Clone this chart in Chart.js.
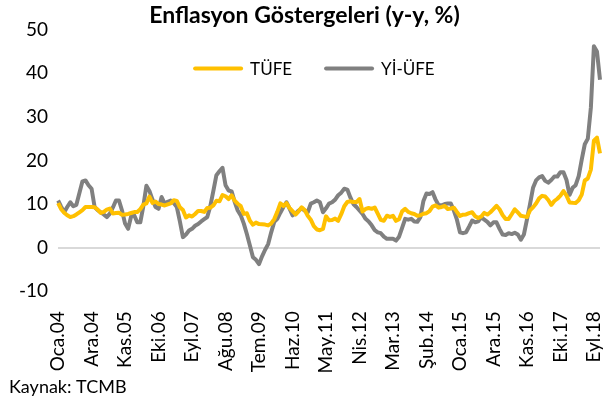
<!DOCTYPE html>
<html>
<head>
<meta charset="utf-8">
<script src="https://cdn.jsdelivr.net/npm/chart.js@4.4.1/dist/chart.umd.min.js"></script>
<style>
  html, body { margin: 0; padding: 0; background: #fff; }
  #wrap { width: 604px; height: 400px; position: relative; }
</style>
</head>
<body>
<div id="wrap"><canvas id="c" width="604" height="400"></canvas></div>
<script>
// Month names (Turkish) and years for the monthly category axis
const MONTHS = ['Oca','Şub','Mar','Nis','May','Haz','Tem','Ağu','Eyl','Eki','Kas','Ara'];
const YEARS = ['04','05','06','07','08','09','10','11','12','13','14','15','16','17','18'];
const LAST_MONTH_2018 = 11; // data runs through Kas.18
const TICK_EVERY = 11;      // a label every 11 months

// TÜFE, annual % change, Oca.04 - Kas.18
const tufe = [
  10.2, 8.8, 8.0, 7.4, 7.0, 7.2, 7.6, 8.1, 8.6, 9.3, 9.3, 9.3,
  9.24, 8.69, 7.94, 8.18, 8.70, 8.95, 7.82, 7.91, 7.99, 7.52, 7.61, 7.72,
  7.93, 8.15, 8.16, 8.83, 9.86, 10.12, 11.69, 10.26, 10.55, 9.98, 9.86, 9.65,
  9.93, 10.16, 10.86, 10.72, 9.23, 8.60, 6.90, 7.39, 7.12, 7.70, 8.40, 8.39,
  8.17, 9.10, 9.15, 9.66, 10.74, 10.61, 12.06, 11.77, 11.13, 11.99, 10.76, 10.06,
  9.50, 7.73, 7.89, 6.13, 5.24, 5.73, 5.39, 5.33, 5.27, 5.08, 5.53, 6.53,
  8.19, 10.13, 9.56, 10.19, 9.10, 8.37, 7.58, 8.33, 9.24, 8.62, 7.29, 6.40,
  4.90, 4.16, 3.99, 4.26, 7.17, 6.24, 6.31, 6.65, 6.15, 7.66, 9.48, 10.45,
  10.61, 10.43, 10.43, 11.14, 8.28, 8.87, 9.07, 8.88, 9.19, 7.80, 6.37, 6.16,
  7.31, 7.03, 7.29, 6.13, 6.51, 8.30, 8.88, 8.17, 7.88, 7.71, 7.32, 7.40,
  7.75, 7.89, 8.39, 9.38, 9.66, 9.16, 9.32, 9.54, 8.86, 8.96, 9.15, 8.17,
  7.24, 7.55, 7.61, 7.91, 8.09, 7.20, 6.81, 7.14, 7.95, 7.58, 8.10, 8.81,
  9.58, 8.78, 7.46, 6.57, 6.58, 7.64, 8.79, 8.05, 7.28, 7.16, 7.00, 8.53,
  9.22, 10.13, 11.29, 11.87, 11.72, 10.90, 9.79, 10.68, 11.20, 11.90, 12.98, 11.92,
  10.35, 10.26, 10.23, 10.85, 12.15, 15.39, 15.85, 17.90, 24.52, 25.24, 21.62
];

// Yİ-ÜFE, annual % change, Oca.04 - Kas.18
const yiUfe = [
  10.8, 9.4, 8.1, 9.3, 10.4, 9.5, 9.8, 12.5, 15.2, 15.4, 14.3, 13.5,
  9.3, 8.6, 8.1, 7.6, 7.0, 7.8, 9.2, 10.8, 10.8, 8.5, 5.5, 4.3,
  7.2, 7.4, 5.8, 5.8, 9.5, 14.2, 13.0, 11.0, 9.3, 8.9, 11.6, 10.1,
  10.5, 10.8, 10.2, 9.3, 6.0, 2.4, 3.0, 3.9, 4.3, 5.0, 5.4, 6.0,
  6.5, 7.0, 9.5, 13.0, 16.6, 17.5, 18.3, 14.3, 13.1, 12.9, 10.5, 8.5,
  7.4, 5.5, 3.1, 0.5, -2.2, -2.8, -3.8, -2.0, -0.5, 0.8, 3.5, 5.9,
  6.6, 8.0, 9.3, 10.4, 9.0, 7.4, 7.8, 8.5, 9.0, 8.5, 8.1, 10.1,
  10.4, 10.8, 10.4, 8.1, 9.0, 10.1, 10.4, 11.0, 12.0, 12.6, 13.5, 13.3,
  11.5, 10.0, 9.3, 8.5, 7.7, 6.6, 6.0, 5.1, 4.0, 3.5, 3.3, 2.5,
  2.0, 2.0, 2.0, 1.6, 2.5, 4.5, 6.6, 6.4, 6.6, 6.0, 5.9, 7.0,
  10.7, 12.4, 12.3, 12.7, 11.0, 9.7, 9.7, 10.0, 10.1, 10.1, 8.5, 6.4,
  3.5, 3.3, 3.5, 4.8, 6.2, 5.8, 6.0, 7.0, 6.4, 5.9, 5.1, 5.8,
  5.8, 4.3, 3.0, 2.9, 3.3, 3.1, 3.4, 3.0, 1.8, 3.0, 6.4, 9.9,
  13.7, 15.4, 16.1, 16.4, 15.3, 14.9, 15.5, 16.3, 16.3, 17.3, 17.3, 15.5,
  12.1, 13.7, 14.3, 16.4, 20.2, 23.7, 25.0, 32.1, 46.2, 45.0, 38.5
];

const Y_MIN = -10, Y_MAX = 50, Y_STEP = 10;

const categories = [];
YEARS.forEach((y, yi) => {
  MONTHS.forEach((m, mi) => {
    if (yi === YEARS.length - 1 && mi >= LAST_MONTH_2018) return;
    categories.push(m + '.' + y);
  });
});

const FONT = "Lato, 'Open Sans', sans-serif";
Chart.defaults.font.family = FONT;
Chart.defaults.color = '#000000';

// Horizontal legend drawn inside the plot area (as in the reference)
const insideLegend = {
  id: 'insideLegend',
  afterDraw(chart) {
    const ctx = chart.ctx;
    const area = chart.chartArea;
    const lineLen = 50, gapText = 7, gapItem = 32, fontSize = 17;
    let x = area.left + 135;
    const y = area.top + 39;
    ctx.save();
    ctx.font = fontSize + 'px ' + FONT;
    ctx.textBaseline = 'middle';
    ctx.textAlign = 'left';
    chart.data.datasets.forEach((ds) => {
      ctx.strokeStyle = ds.borderColor;
      ctx.lineWidth = ds.borderWidth;
      ctx.lineCap = 'round';
      ctx.beginPath();
      ctx.moveTo(x + 2, y);
      ctx.lineTo(x + lineLen - 2, y);
      ctx.stroke();
      x += lineLen + gapText;
      ctx.fillStyle = '#000';
      ctx.fillText(ds.label, x, y + 1);
      x += ctx.measureText(ds.label).width + gapItem;
    });
    ctx.restore();
  }
};

new Chart(document.getElementById('c'), {
  type: 'line',
  data: {
    labels: categories,
    datasets: [
      {
        label: 'TÜFE',
        data: tufe,
        borderColor: '#FFC000',
        backgroundColor: '#FFC000',
        borderWidth: 4,
        pointRadius: 0,
        tension: 0,
        borderJoinStyle: 'round'
      },
      {
        label: 'Yİ-ÜFE',
        data: yiUfe,
        borderColor: '#808080',
        backgroundColor: '#808080',
        borderWidth: 4,
        pointRadius: 0,
        tension: 0,
        borderJoinStyle: 'round'
      }
    ]
  },
  plugins: [insideLegend],
  options: {
    responsive: false,
    animation: false,
    layout: { padding: { left: 9, right: 4, top: 0, bottom: 2 } },
    plugins: {
      title: {
        display: true,
        text: 'Enflasyon Göstergeleri (y-y, %)',
        font: { size: 23, weight: 'bold', family: FONT },
        color: '#000',
        padding: { top: 2, bottom: 0 }
      },
      subtitle: {
        display: true,
        text: 'Kaynak: TCMB',
        position: 'bottom',
        align: 'start',
        font: { size: 18, family: FONT },
        color: '#000',
        padding: { top: 4, bottom: 0 }
      },
      legend: { display: false },
      tooltip: { enabled: false }
    },
    scales: {
      x: {
        offset: false,
        grid: { display: false },
        border: { display: false },
        afterFit: (scale) => {
          scale.paddingLeft = 0;
          scale.paddingRight = 0;
          scale.height = scale.height - 13;
        },
        ticks: {
          autoSkip: false,
          maxRotation: 90,
          minRotation: 90,
          padding: 12,
          font: { size: 19, family: FONT },
          color: '#000',
          callback: function (val, idx) {
            return idx % TICK_EVERY === 0 ? this.getLabelForValue(val) : null;
          }
        }
      },
      y: {
        min: Y_MIN,
        max: Y_MAX,
        border: { display: false },
        grid: {
          drawTicks: false,
          lineWidth: 2,
          color: (ctx) => (ctx.tick && ctx.tick.value === 0 ? '#D9D9D9' : 'rgba(0,0,0,0)')
        },
        ticks: {
          stepSize: Y_STEP,
          padding: 10,
          font: { size: 19, family: FONT },
          color: '#000'
        }
      }
    }
  }
});
</script>
</body>
</html>
